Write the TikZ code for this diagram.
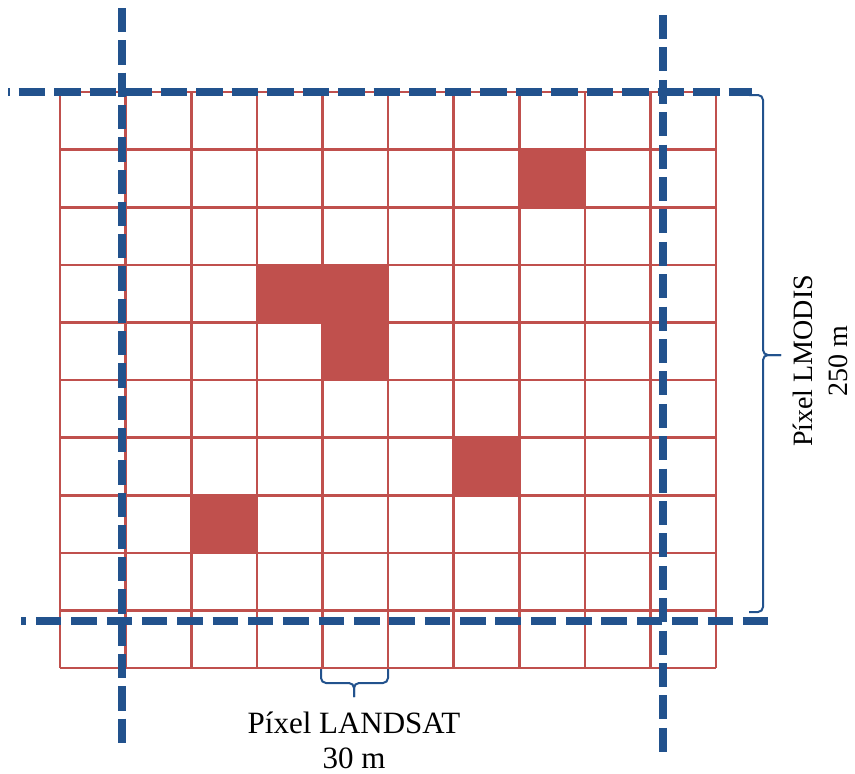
\documentclass[tikz,border=0pt]{standalone}
\usepackage{fontspec}
\setmainfont{Liberation Serif}
\definecolor{cellred}{RGB}{192,80,77}
\definecolor{lineblue}{RGB}{34,82,141}
\begin{document}
\begin{tikzpicture}[x=1pt,y=-1pt,
  gridline/.style={draw=cellred,line width=2.6pt},
  cellfill/.style={fill=cellred},
  vdash/.style={draw=lineblue,line width=8.8pt,dash pattern=on 24.3pt off 8pt},
  hdash/.style={draw=lineblue,line width=8.4pt},
  bracestyle/.style={draw=lineblue,line width=2pt,rounded corners=5pt},
  lbl/.style={align=center,inner sep=0pt}]
\useasboundingbox (0,0) rectangle (855,774);
% filled cells
\foreach \c/\r in {7/1,3/3,4/3,4/4,6/6,2/7}
  \fill[cellfill] ({60+65.6*\c},{92+57.6*\r}) rectangle ++(65.6,57.6);
% grid
\foreach \i in {0,...,10}
  \draw[gridline] ({60+65.6*\i},92) -- ({60+65.6*\i},668);
\foreach \j in {0,...,10}
  \draw[gridline] (60,{92+57.6*\j}) -- (716,{92+57.6*\j});
% braces
\coordinate (rb1) at (749,95);
\coordinate (rb2) at (763,95);
\coordinate (rbm) at (763,355);
\coordinate (rbt) at (781,355);
\coordinate (rb3) at (763,612);
\coordinate (rb4) at (749,612);
\draw[bracestyle] (rb1) -- (rb2) -- (rbm) -- (rbt);
\draw[bracestyle] (rbt) -- (rbm) -- (rb3) -- (rb4);
\coordinate (bb1) at (321,669);
\coordinate (bb2) at (321,683);
\coordinate (bbm) at (354,683);
\coordinate (bbt) at (354,697);
\coordinate (bb3) at (388,683);
\coordinate (bb4) at (388,669);
\draw[bracestyle] (bb1) -- (bb2) -- (bbm) -- (bbt);
\draw[bracestyle] (bbt) -- (bbm) -- (bb3) -- (bb4);
% blue dashed lines
\coordinate (v1a) at (122,8);
\coordinate (v1b) at (122,744);
\coordinate (v2a) at (663,15);
\coordinate (v2b) at (663,753);
\coordinate (h1a) at (8,92);
\coordinate (h1b) at (752,92);
\coordinate (h2a) at (21,621);
\coordinate (h2b) at (770,621);
\draw[vdash] (v1a) -- (v1b);
\draw[vdash,dash pattern=on 24pt off 8.4pt] (v2a) -- (v2b);
\draw[hdash,dash pattern=on 26.5pt off 9pt,dash phase=25] (h1a) -- (h1b);
\draw[hdash,dash pattern=on 25.5pt off 9.85pt,dash phase=20.5] (h2a) -- (h2b);
% labels
\node[lbl,rotate=90,font=\fontsize{28}{35}\selectfont] (lmodis) at (820,361) {Píxel LMODIS\\250 m};
\node[lbl,font=\fontsize{31}{35}\selectfont] (landsat) at (354,740) {Píxel LANDSAT\\30 m};
\end{tikzpicture}
\end{document}
